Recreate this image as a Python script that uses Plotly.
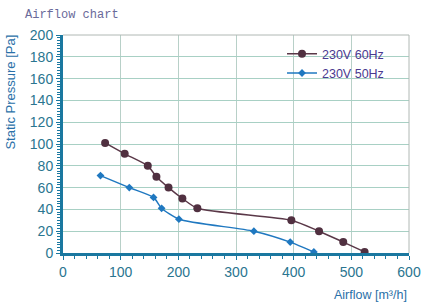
import plotly.graph_objects as go

airflow_60 = [73, 107, 147, 162, 183, 207, 233, 396, 444, 486, 523]
pressure_60 = [101, 91, 80, 70, 60, 50, 41, 30, 20, 10, 1]
airflow_50 = [65, 115, 157, 171, 201, 331, 394, 435]
pressure_50 = [71, 60, 51, 41, 31, 20, 10, 1]
series_names = ["230V 60Hz", "230V 50Hz"]

fig = go.Figure()
fig.add_trace(go.Scatter(x=airflow_60, y=pressure_60, name=series_names[0],
                         mode="lines+markers", line=dict(color="#5a3848", width=1.5, shape="spline", smoothing=0.6),
                         marker=dict(symbol="circle", size=8, color="#503040")))
fig.add_trace(go.Scatter(x=airflow_50, y=pressure_50, name=series_names[1],
                         mode="lines+markers", line=dict(color="#1f78c0", width=1.5, shape="spline", smoothing=0.6),
                         marker=dict(symbol="diamond", size=6, color="#1f78c0")))

tick_font = dict(family="Liberation Sans, Arial", size=14, color="#2a7590")
fig.update_layout(
    width=424, height=305,
    margin=dict(l=63, r=15, t=35, b=52),
    paper_bgcolor="white", plot_bgcolor="white",
    showlegend=True,
    legend=dict(x=0.633, y=0.981, xanchor="left", yanchor="top", bgcolor="rgba(0,0,0,0)",
                font=dict(family="Liberation Sans, Arial", size=12.5, color="#4a3a90"),
                itemwidth=30, tracegroupgap=0),
    xaxis=dict(range=[0, 600], dtick=100, tickfont=tick_font, showgrid=True, gridcolor="#b8d0c8", gridwidth=1,
               showline=True, linecolor="#1a78a0", linewidth=3, mirror=False, zeroline=False,
               ticks="outside", ticklen=4, tickcolor="#1a78a0", automargin=False,
               minor=dict(dtick=20, ticks="outside", ticklen=3, tickcolor="#1a78a0", showgrid=False)),
    yaxis=dict(range=[0, 200], dtick=20, tickfont=tick_font, showgrid=True, gridcolor="#a8d0c4", gridwidth=1,
               showline=True, linecolor="#1a78a0", linewidth=3, zeroline=False,
               ticks="outside", ticklen=4, tickcolor="#1a78a0", automargin=False,
               minor=dict(dtick=2.5, ticks="outside", ticklen=3, tickcolor="#1a78a0", showgrid=False)),
    shapes=[
        dict(type="line", xref="paper", yref="paper", x0=0, x1=1, y0=1, y1=1, line=dict(color="#b0b8b4", width=1)),
        dict(type="line", xref="paper", yref="paper", x0=1, x1=1, y0=0, y1=1, line=dict(color="#b0b8b4", width=1)),
    ],
    annotations=[
        dict(text="Airflow chart", xref="paper", yref="paper", x=-0.1156, y=1.092, xanchor="left", yanchor="middle",
             showarrow=False, font=dict(family="Liberation Mono, DejaVu Sans Mono", size=12, color="#6a6a9a")),
        dict(text="Static Pressure [Pa]", xref="paper", yref="paper", x=-0.153, y=1.009, xanchor="center", yanchor="top",
             textangle=-90, showarrow=False, font=dict(family="Liberation Sans, Arial", size=13, color="#2a70a8")),
        dict(text="Airflow [m³/h]", xref="paper", yref="paper", x=1.0, y=-0.193, xanchor="right", yanchor="middle",
             showarrow=False, font=dict(family="Liberation Sans, Arial", size=12.5, color="#2a70a8")),
    ],
)
fig.write_html("out.html", config={"displayModeBar": False},
               post_script="document.body.style.margin='0';document.body.style.overflow='hidden';")
